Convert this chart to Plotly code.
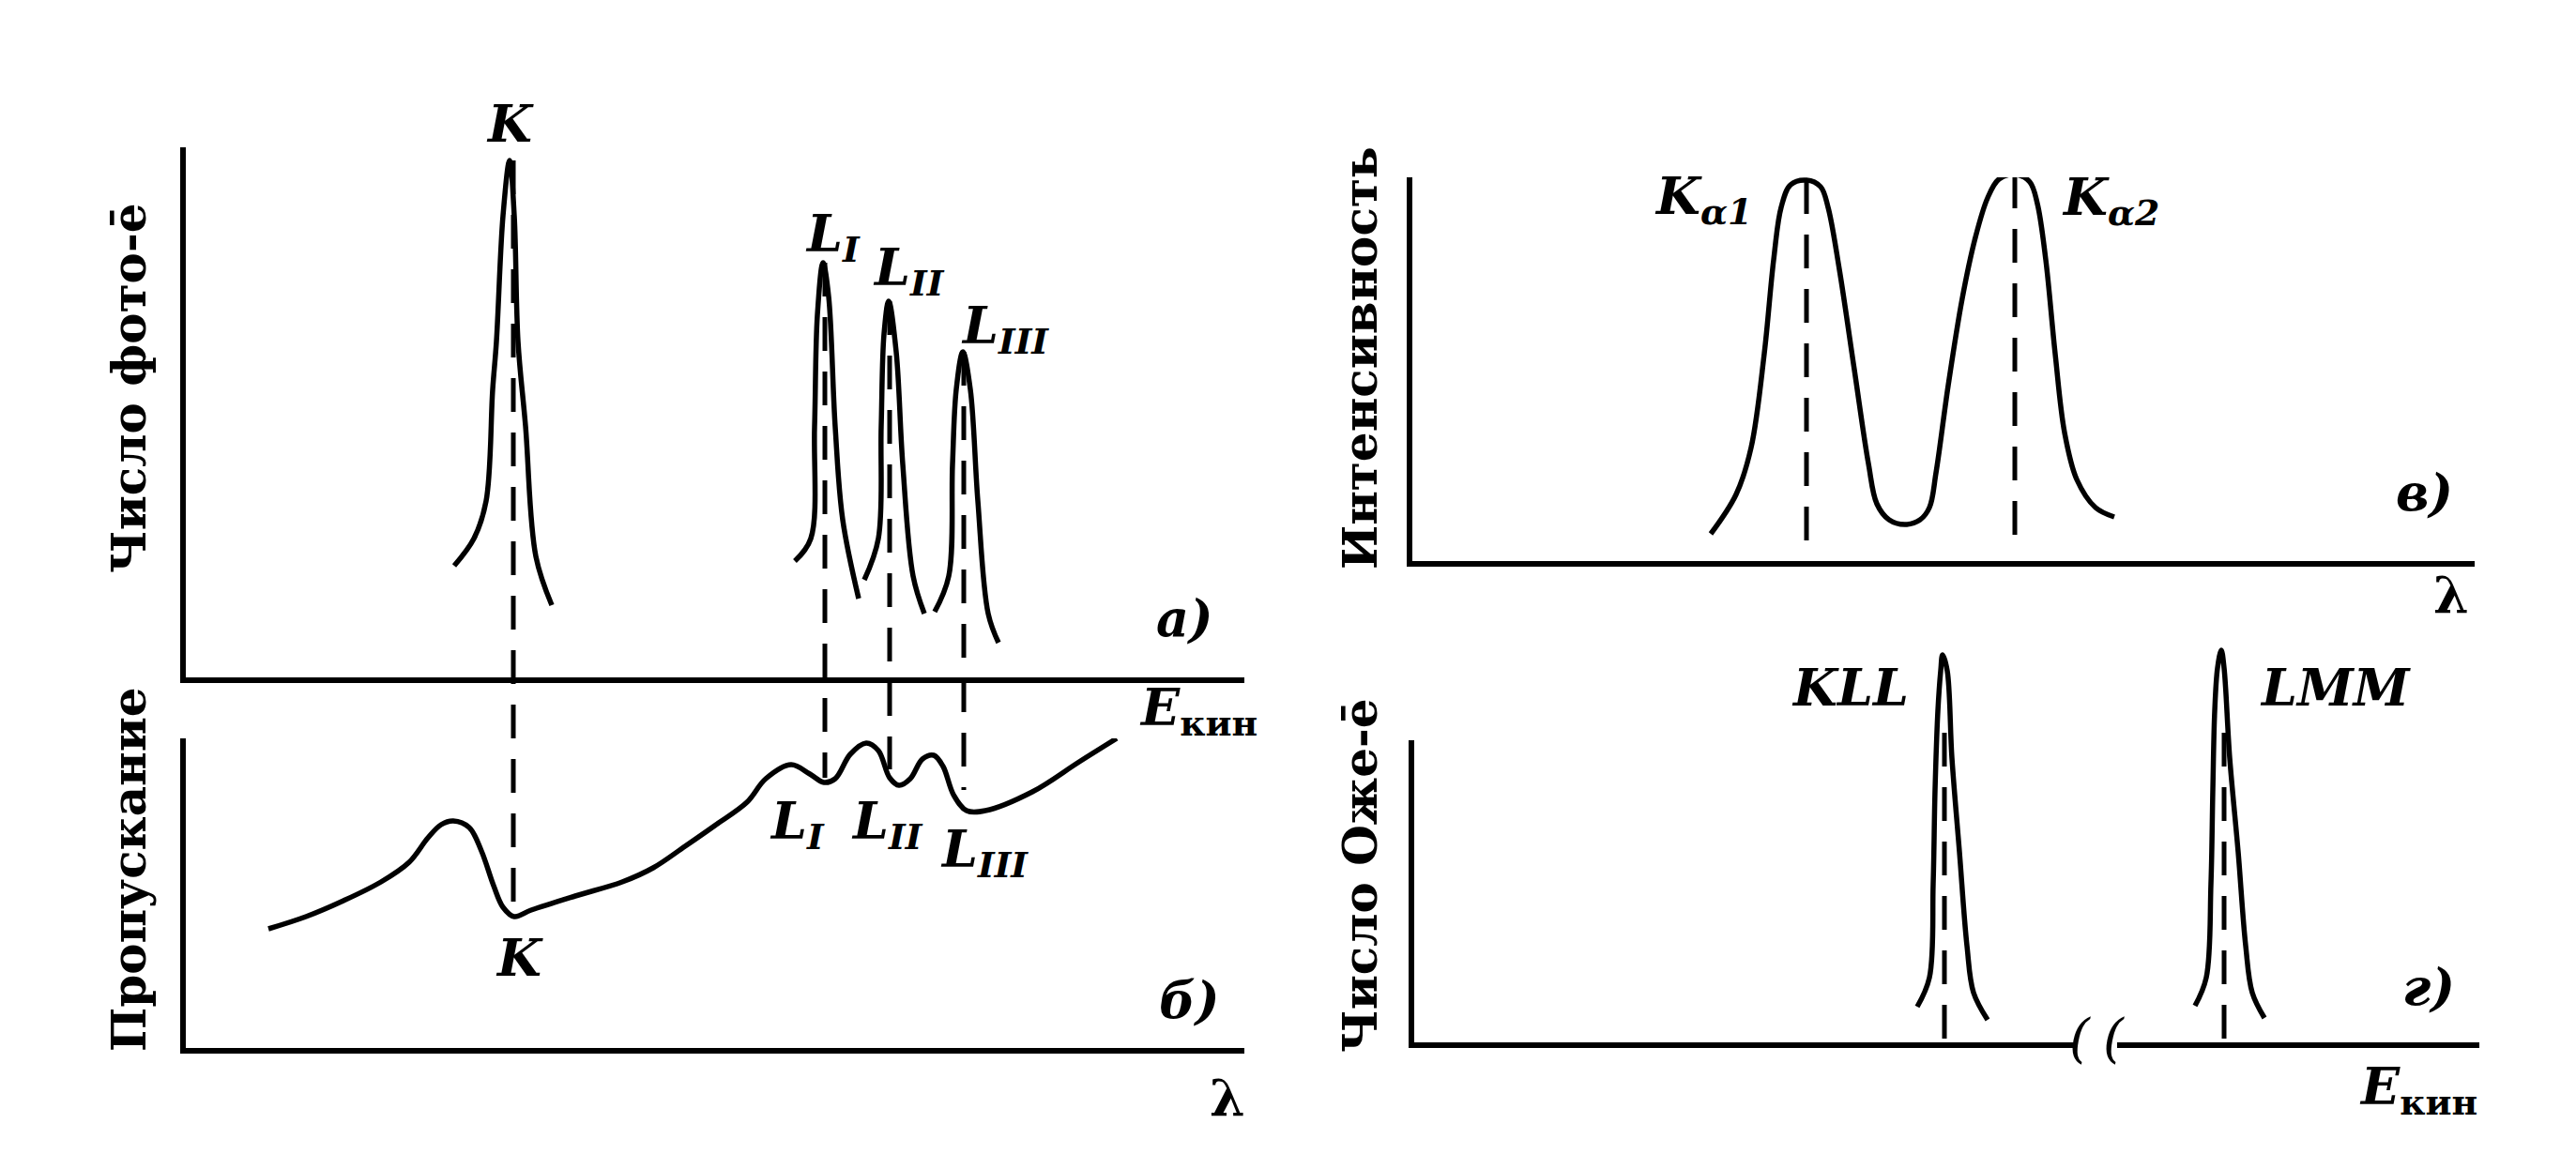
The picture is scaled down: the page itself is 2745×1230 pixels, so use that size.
import plotly.graph_objects as go

W, H = 2745, 1230
OFF = 8                      # default page margin around the plot div
FW, FH = W - 2 * OFF, H - 2 * OFF

# panel а) photoelectron peaks (x: energy units, y: counts)
k_x = [286, 307, 320, 327, 331, 338, 345, 350, 354, 362, 373, 390]
k_y = [119, 148, 188, 307, 358, 492, 551, 492, 358, 268, 129, 77]
l1_x = [649, 666, 670, 673, 679, 685, 692, 700, 717]
l1_y = [124, 148, 267, 386, 442, 406, 267, 168, 84]
l2_x = [723, 738, 741, 744, 749, 757, 764, 775, 787]
l2_y = [104, 148, 267, 366, 401, 347, 227, 108, 68]
l3_x = [798, 813, 817, 821, 828, 836, 844, 855, 866]
l3_y = [70, 108, 227, 307, 347, 307, 188, 68, 37]

# panel б) transmission
tr_x = [88, 128, 168, 208, 238, 258, 272, 285, 302, 315, 328, 338, 350, 368, 415, 465, 498, 532,
        565, 598, 618, 645, 665, 680, 692, 708, 725, 738, 750, 760, 772, 785, 797, 807,
        818, 832, 852, 902, 952, 992]
tr_y = [127, 140, 157, 177, 198, 224, 238, 242, 235, 210, 173, 150, 140, 147, 162, 177, 192, 215,
        238, 262, 287, 302, 292, 283, 287, 313, 325, 317, 288, 280, 287, 308, 312, 300,
        270, 253, 253, 273, 305, 330]

# dashed links between а) and б)
link_x = [349, 681, 750, 829]
link_top = [551, 442, 401, 347]      # in а) units
link_bottom = [140, 288, 297, 275]   # in б) units

# panel в) Kα doublet
ka_x = [318, 345, 361, 375, 385, 393, 403, 420, 435, 443, 455, 471, 486, 495, 508, 525, 541,
        551, 558, 571, 586, 600, 613, 625, 643, 658, 666, 675, 685, 695, 708, 728, 748]
ka_y = [29, 71, 121, 221, 321, 377, 401, 406, 399, 377, 311, 204, 104, 61, 44, 39, 44,
        57, 94, 187, 280, 345, 387, 407, 412, 404, 381, 321, 221, 137, 87, 57, 47]
ka_lines_x = [420, 642]
ka_lines_top = [406, 412]
ka_lines_bottom = [17, 24]

# panel г) Auger peaks
kll_x = [536, 549, 553, 555, 558, 561, 563, 568, 573, 581, 589, 596, 611]
kll_y = [38, 69, 169, 269, 353, 396, 413, 396, 303, 203, 103, 53, 24]
lmm_x = [832, 844, 849, 851, 853, 856, 860, 863, 869, 878, 886, 893, 906]
lmm_y = [39, 69, 169, 269, 353, 399, 418, 399, 303, 203, 103, 53, 26]
auger_lines_x = [565, 863]
auger_lines_top = [330, 330]
axis_break = [704, 749]

# panel frames in page pixels (axis line centres): left, right, top, bottom
A = (195, 1326, 157, 725)
B = (195, 1326, 787, 1120)
V = (1502, 2637, 189, 601)
G = (1504, 2642, 789, 1114)
G_PEAK_TOP = 690
LW = 6


def fx(p):
    return (p - OFF) / FW


def fy(p):
    return 1 - (p - OFF) / FH


def frame(p, top=None):
    # plot area sits inside the axis lines
    left, right, t, bottom = p
    t = t if top is None else top
    return [fx(left + LW / 2), fx(right)], [fy(bottom - LW / 2), fy(t)], \
        [0, right - left - LW / 2], [0, bottom - LW / 2 - t]


def ax(domain, rng, anchor, show=True):
    return dict(domain=domain, range=rng, anchor=anchor, showline=show, visible=show,
                linewidth=LW, linecolor='black', showgrid=False, zeroline=False,
                showticklabels=False, ticks='', fixedrange=True)


solid = dict(color='black', width=5.5, shape='spline', smoothing=1)
dash = dict(color='black', width=5, dash='36px,22px')

fig = go.Figure()

for xs, ys in [(k_x, k_y), (l1_x, l1_y), (l2_x, l2_y), (l3_x, l3_y)]:
    fig.add_trace(go.Scatter(x=xs, y=ys, mode='lines', line=solid, xaxis='x', yaxis='y'))

fig.add_trace(go.Scatter(x=tr_x, y=tr_y, mode='lines', line=solid, xaxis='x2', yaxis='y2'))

# links drawn on a frame that spans both left panels, in а) units
shift = B[3] - A[3]
for lx, t, b in zip(link_x, link_top, link_bottom):
    fig.add_trace(go.Scatter(x=[lx, lx], y=[t, b - shift], mode='lines', line=dash,
                             xaxis='x5', yaxis='y5'))

fig.add_trace(go.Scatter(x=ka_x, y=ka_y, mode='lines', line=solid, xaxis='x3', yaxis='y3'))
for lx, t, b in zip(ka_lines_x, ka_lines_top, ka_lines_bottom):
    fig.add_trace(go.Scatter(x=[lx, lx], y=[t, b], mode='lines', line=dash, xaxis='x3', yaxis='y3'))

for xs, ys in [(kll_x, kll_y), (lmm_x, lmm_y)]:
    fig.add_trace(go.Scatter(x=xs, y=ys, mode='lines', line=solid, xaxis='x6', yaxis='y6'))
for lx, t in zip(auger_lines_x, auger_lines_top):
    fig.add_trace(go.Scatter(x=[lx, lx], y=[t, 0], mode='lines', line=dash, xaxis='x6', yaxis='y6'))
fig.add_trace(go.Scatter(x=[], y=[], xaxis='x4', yaxis='y4'))

ax_dx, ax_dy, ax_rx, ax_ry = frame(A)
bx_dx, bx_dy, bx_rx, bx_ry = frame(B)
vx_dx, vx_dy, vx_rx, vx_ry = frame(V)
gx_dx, gx_dy, gx_rx, gx_ry = frame(G)
lk_dx, lk_dy, lk_rx, _ = frame((A[0], A[1], A[2], B[3]))
pk_dx, pk_dy, pk_rx, pk_ry = frame(G, top=G_PEAK_TOP)

fig.update_layout(
    width=FW, height=FH, margin=dict(l=0, r=0, t=0, b=0),
    paper_bgcolor='white', plot_bgcolor='rgba(0,0,0,0)', showlegend=False,
    xaxis=ax(ax_dx, ax_rx, 'y'), yaxis=ax(ax_dy, ax_ry, 'x'),
    xaxis2=ax(bx_dx, bx_rx, 'y2'), yaxis2=ax(bx_dy, bx_ry, 'x2'),
    xaxis3=ax(vx_dx, vx_rx, 'y3'), yaxis3=ax(vx_dy, vx_ry, 'x3'),
    xaxis4=ax(gx_dx, gx_rx, 'y4'), yaxis4=ax(gx_dy, gx_ry, 'x4'),
    xaxis5=ax(lk_dx, lk_rx, 'y5', False),
    yaxis5=ax(lk_dy, [-shift, ax_ry[1]], 'x5', False),
    xaxis6=ax(pk_dx, pk_rx, 'y6', False), yaxis6=ax(pk_dy, pk_ry, 'x6', False),
)

# break in the Auger energy axis
fig.add_shape(type='rect', xref='x4', yref='paper', x0=axis_break[0], x1=axis_break[1],
              y0=fy(G[3] + 20), y1=fy(G[3] - 20), fillcolor='white', line_width=0, layer='above')

serif = 'DejaVu Serif'


def label(text, x, y, size=54, xanchor='center', style='italic', weight='bold', angle=0):
    fig.add_annotation(text=text, x=fx(x), y=fy(y), xref='paper', yref='paper',
                       xanchor=xanchor, yanchor='middle', showarrow=False, textangle=angle,
                       font=dict(family=serif, size=size, color='black', style=style, weight=weight))


label('(', 2216, 1106, size=56, weight='normal')
label('(', 2252, 1106, size=56, weight='normal')

# panel а
label('K', 543, 132)
label('L<sub>I</sub>', 856, 252, xanchor='left')
label('L<sub>II</sub>', 928, 288, xanchor='left')
label('L<sub>III</sub>', 1022, 351, xanchor='left')
label('а)', 1262, 659)
label('<i>E</i><sub>кин</sub>', 1212, 757, xanchor='left', style='normal')
label('Число фото-ē', 137, 414, size=50, style='normal', angle=-90)

# panel б
label('L<sub>I</sub>', 818, 878, xanchor='left')
label('L<sub>II</sub>', 905, 878, xanchor='left')
label('L<sub>III</sub>', 1000, 908, xanchor='left')
label('K', 553, 1021)
label('б)', 1267, 1066)
label('λ', 1308, 1171, style='normal')
label('Пропускание', 137, 927, size=50, style='normal', angle=-90)

# panel в
label('K<sub>α1</sub>', 1815, 212)
label('K<sub>α2</sub>', 2249, 214)
label('в)', 2583, 525)
label('λ', 2612, 635, style='normal')
label('Интенсивность', 1449, 382, size=50, style='normal', angle=-90)

# panel г
label('KLL', 1971, 733)
label('LMM', 2489, 733)
label('г)', 2588, 1052)
label('<i>E</i><sub>кин</sub>', 2512, 1161, xanchor='left', style='normal')
label('Число Оже-ē', 1449, 933, size=50, style='normal', angle=-90)

fig.write_html("out.html")
